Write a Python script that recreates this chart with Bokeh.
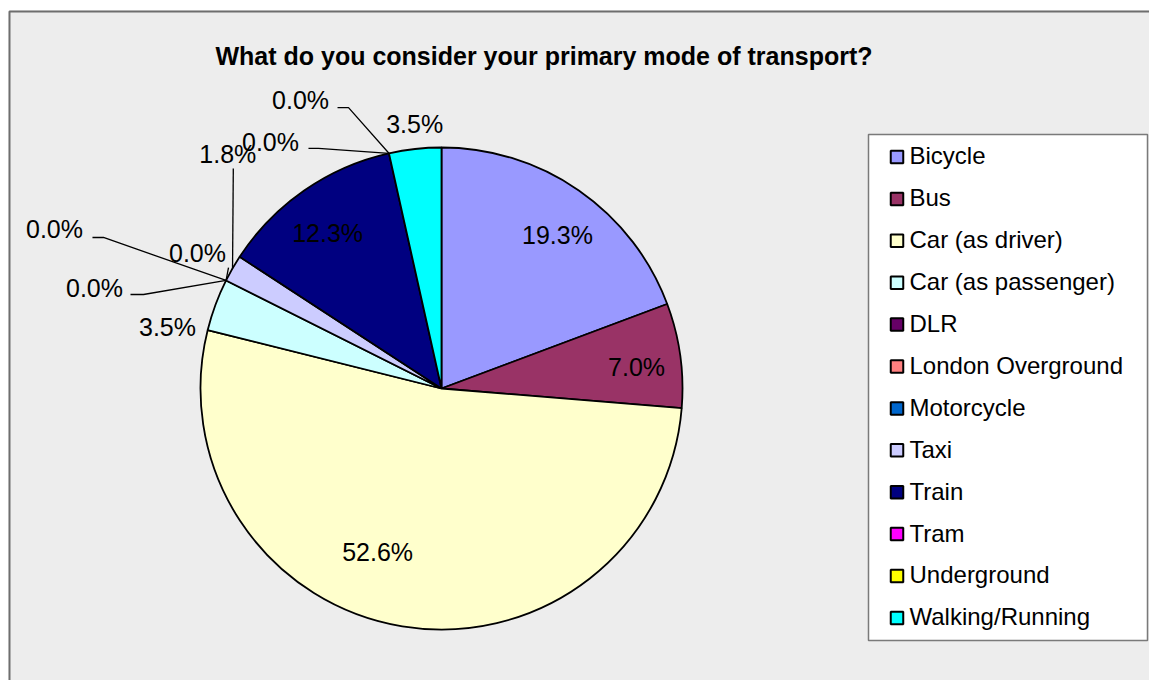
import math
from bokeh.plotting import figure
from bokeh.models import Range1d, ColumnDataSource
from bokeh.core.properties import value
from bokeh.embed import file_html
from bokeh.resources import INLINE

# ---------------- data ----------------
title_text = "What do you consider your primary mode of transport?"
categories = ["Bicycle", "Bus", "Car (as driver)", "Car (as passenger)", "DLR",
              "London Overground", "Motorcycle", "Taxi", "Train", "Tram",
              "Underground", "Walking/Running"]
percent = [19.3, 7.0, 52.6, 3.5, 0.0, 0.0, 0.0, 1.8, 12.3, 0.0, 0.0, 3.5]
colors = ["#9999FF", "#993366", "#FFFFCC", "#CCFFFF", "#660066", "#FF8080",
          "#0066CC", "#CCCCFF", "#000080", "#FF00FF", "#FFFF00", "#00FFFF"]

# ---------------- layout (page pixels) ----------------
W, H = 1149, 680
OX, OY = 0, 0


def X(px):
    return px - OX


def Y(py):
    return (OY + H) - py


CX, CY, R = 441, 388, 241          # pie centre / radius in page px
FONT = "Liberation Sans"
LABEL_FS = 25
LEGEND_FS = 24
TITLE_FS = 25
SHIFT = 0.37                        # empirical baseline correction (fraction of font size)

# label placement: distance (in radii) and angle (deg clockwise from 12 o'clock)
label_dist = [0.798, 0.814, 0.730, 1.165, 1.737, 1.499, 1.158, 1.315, 0.800, 1.245, 1.332, 1.101]
label_ang = [37.1, 83.85, 201.3, 282.6, 292.4, 286.15, 299.04, 317.6, 323.8, 325.25, 333.95, 354.2]
# leader lines: (start dx, start dy, elbow dx) relative to label centre, or None
leaders = [None, None, None, None, (38, 8.5, 11), (36, 6.5, 13), (31, 14.5, 0),
           (5.5, 14, 0), None, (38, 6.5, 10), (37, 7.5, 11), None]


def polar(dist, ang_deg):
    a = math.radians(ang_deg)
    return CX + dist * math.sin(a), CY - dist * math.cos(a)


# ---------------- figure ----------------
p = figure(width=W, height=H, x_range=Range1d(0, W), y_range=Range1d(0, H),
           output_backend="svg", toolbar_location=None,
           x_axis_location=None, y_axis_location=None, min_border=0)
p.grid.visible = False
p.outline_line_color = None
p.background_fill_color = "white"
p.border_fill_color = "white"

# chart area
p.quad(left=X(8), right=X(1149), top=Y(10), bottom=Y(680),
       fill_color="#EDEDED", line_color=None)
p.line([X(9), X(9), X(1149)], [Y(680), Y(11), Y(11)], line_color="#6E6E6E", line_width=2)

# wedges (clockwise from top)
total = sum(percent)
starts, ends, mids = [], [], []
cum = 0.0
for v in percent:
    s = cum / total
    cum += v
    e = cum / total
    starts.append(s)
    ends.append(e)
    mids.append((s + e) / 2 * 360.0)

wx, wy, wsa, wea, wc = [], [], [], [], []
for v, s, e, c in zip(percent, starts, ends, colors):
    if v <= 0:
        continue
    wx.append(X(CX))
    wy.append(Y(CY))
    wsa.append(math.pi / 2 - 2 * math.pi * e)
    wea.append(math.pi / 2 - 2 * math.pi * s)
    wc.append(c)
p.wedge(x="x", y="y", radius=R, start_angle="sa", end_angle="ea", direction="anticlock",
        fill_color="c", line_color="black", line_width=1.8,
        source=ColumnDataSource(dict(x=wx, y=wy, sa=wsa, ea=wea, c=wc)))

# labels + leaders
lx, ly, lt = [], [], []
mxs, mys = [], []
for i, v in enumerate(percent):
    cxl, cyl = polar(label_dist[i] * R, label_ang[i])
    lx.append(X(cxl))
    ly.append(Y(cyl + 0.36 * LABEL_FS - SHIFT * LABEL_FS))
    lt.append(f"{v:.1f}%")
    if leaders[i] is not None:
        sdx, sdy, edx = leaders[i]
        sx, sy = cxl + sdx, cyl + sdy
        ax, ay = polar(R, mids[i])
        xs = [sx]
        ys = [sy]
        if edx:
            xs.append(sx + edx)
            ys.append(sy)
        xs.append(ax)
        ys.append(ay)
        mxs.append([X(t) for t in xs])
        mys.append([Y(t) for t in ys])
p.multi_line(mxs, mys, line_color="black", line_width=1.3)
p.text(x=lx, y=ly, text=lt, text_font=value(FONT), text_font_size=value(f"{LABEL_FS}px"),
       text_align="center", text_baseline="alphabetic", text_color="black")

# legend
LB_L, LB_T, LB_R, LB_B = 868, 134, 1147, 640
ROW0, ROWH = 156.5, 41.9
p.quad(left=X(LB_L), right=X(LB_R), top=Y(LB_T), bottom=Y(LB_B),
       fill_color="white", line_color="#7A7A7A", line_width=1.5)
rows = [ROW0 + i * ROWH for i in range(len(categories))]
p.rect(x=[X(896.5)] * len(categories), y=[Y(r) for r in rows], width=12.5, height=12.5,
       fill_color=colors, line_color="black", line_width=2)
p.text(x=[X(909)] * len(categories), y=[Y(r + 7.8 - SHIFT * LEGEND_FS) for r in rows],
       text=categories, text_font=value(FONT), text_font_size=value(f"{LEGEND_FS}px"),
       text_align="left", text_baseline="alphabetic", text_color="black")

# title
p.text(x=[X(543.5)], y=[Y(65 - SHIFT * TITLE_FS)], text=[title_text],
       text_font=value(FONT), text_font_size=value(f"{TITLE_FS}px"),
       text_font_style="bold", text_align="center", text_baseline="alphabetic",
       text_color="black")

open("out.html", "w").write(file_html(p, INLINE))
